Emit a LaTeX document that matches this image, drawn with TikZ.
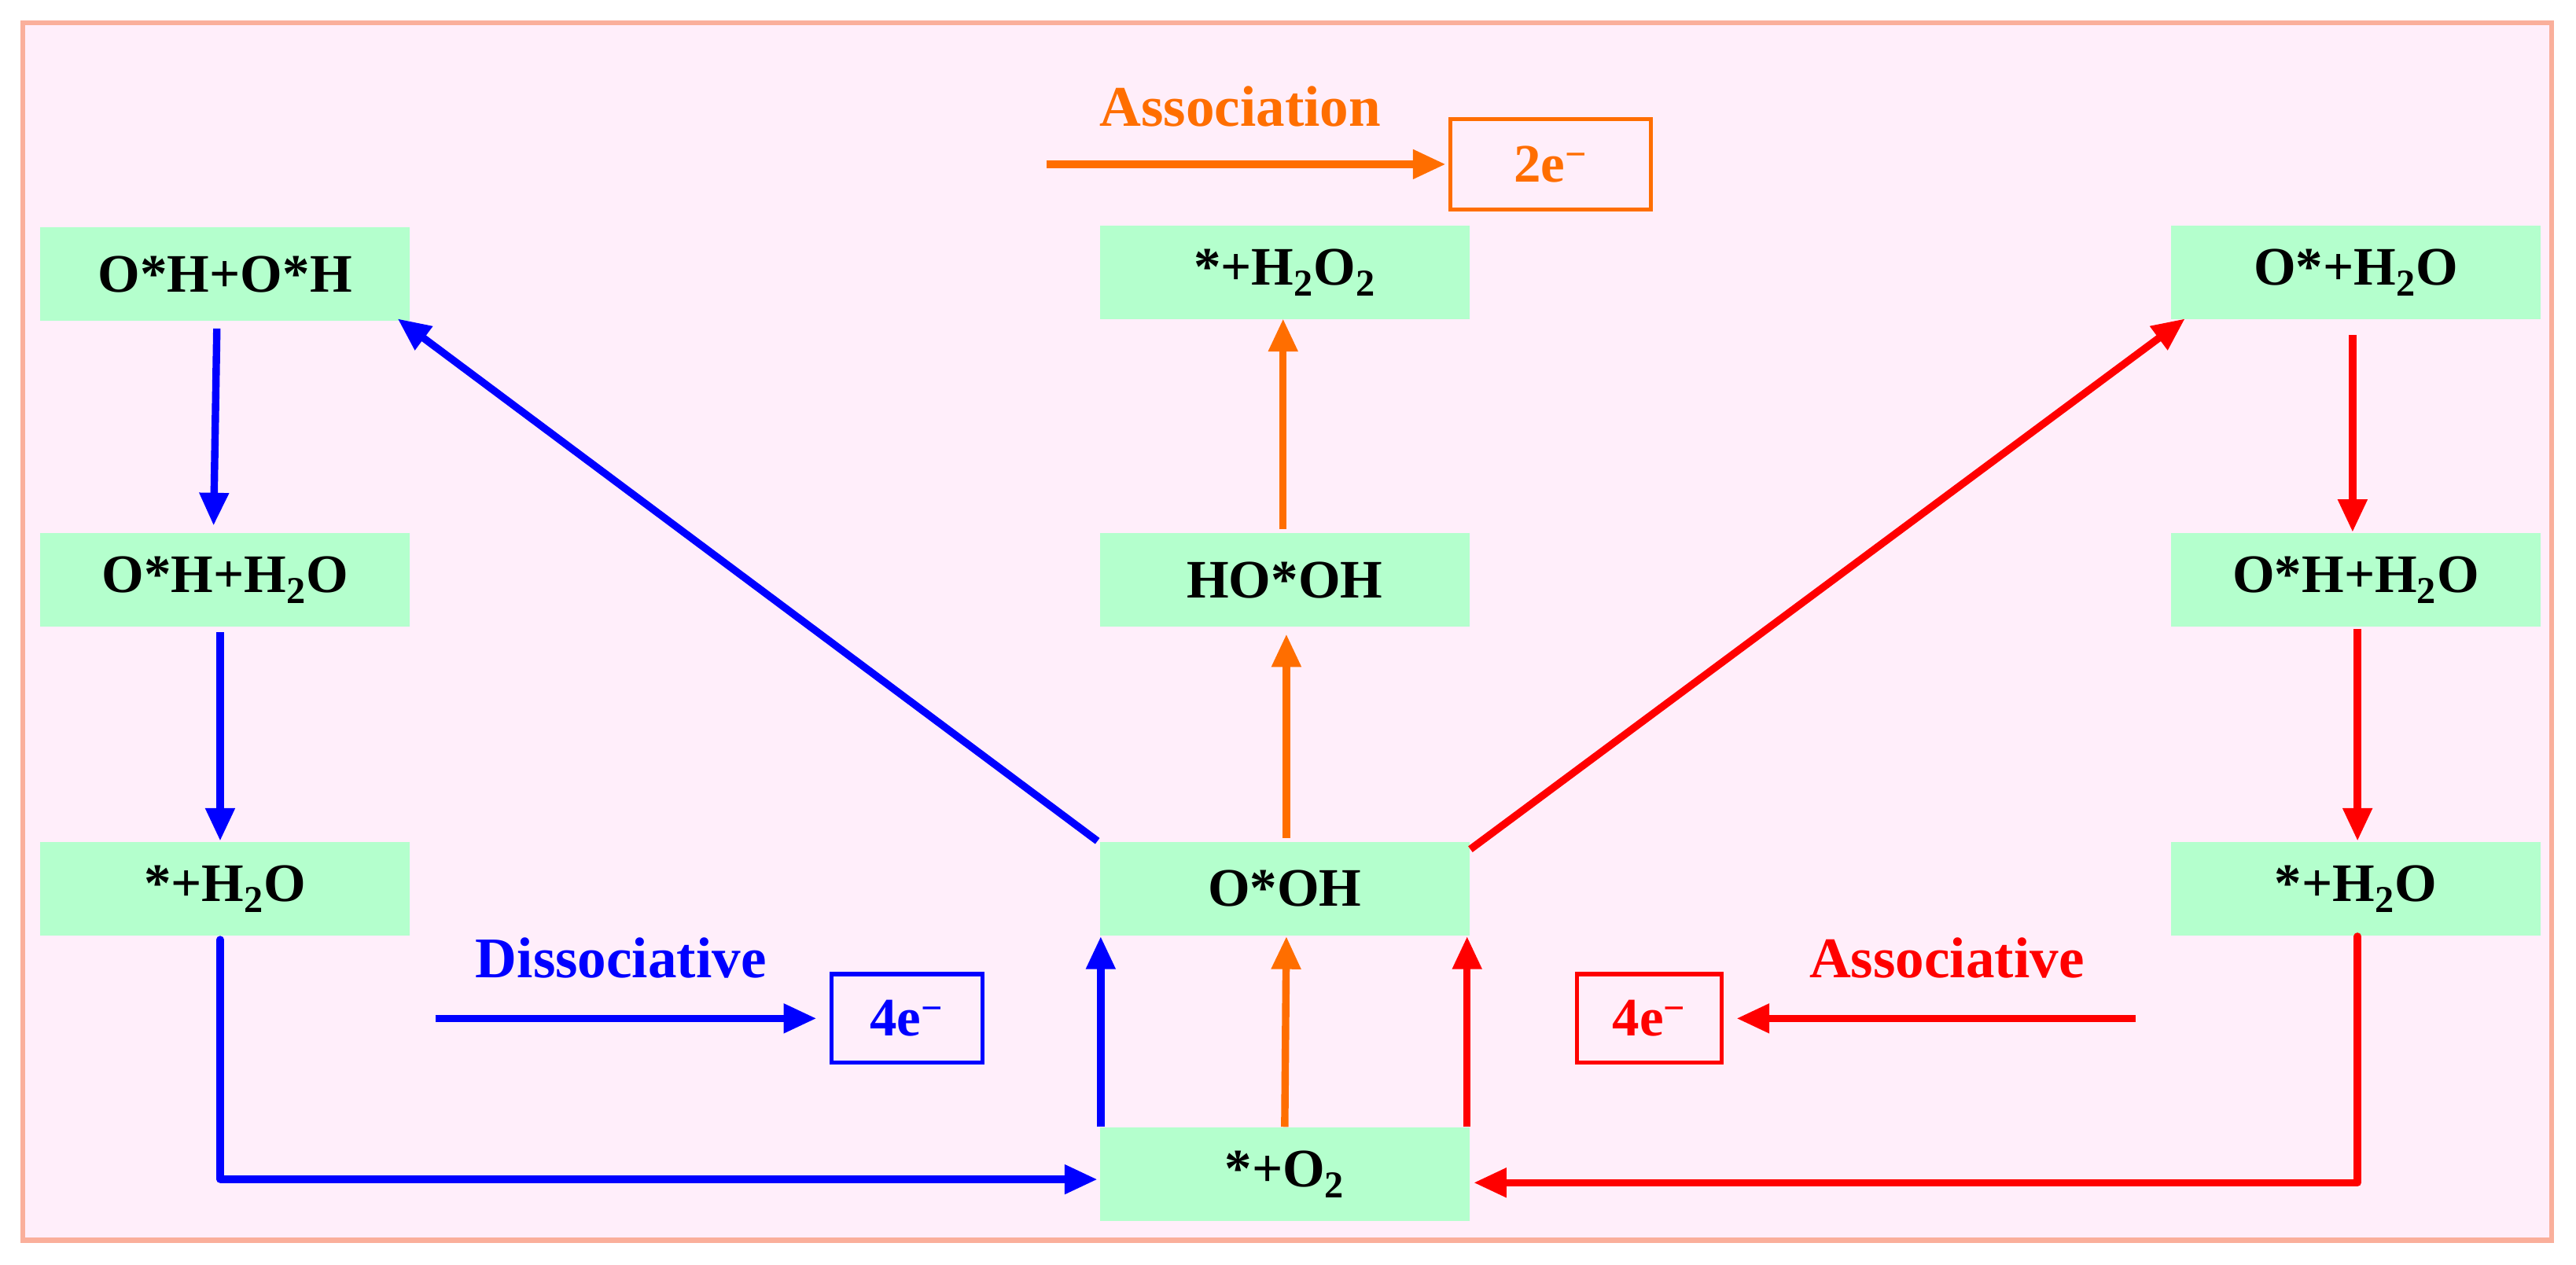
\documentclass[tikz,border=0pt]{standalone}
\usepackage{fontspec}
\setmainfont{Liberation Serif}
\usetikzlibrary{arrows.meta}
\definecolor{bgpink}{RGB}{255,238,250}
\definecolor{bord}{RGB}{250,175,155}
\definecolor{ngreen}{RGB}{180,255,205}
\definecolor{cblue}{RGB}{0,0,255}
\definecolor{corange}{RGB}{255,110,0}
\definecolor{cred}{RGB}{255,0,0}
\tikzset{
  st/.style={fill=ngreen,minimum width=225pt,minimum height=57pt,inner sep=0pt,font=\fontsize{33}{36}\selectfont\bfseries},
  ar/.style={line width=4.5pt,-{Triangle[length=20pt,width=17pt]}},
  ln/.style={line width=4.5pt},
  lab/.style={font=\fontsize{35}{38}\selectfont\bfseries},
  ebox/.style={draw,line width=2.5pt,inner sep=0pt,font=\fontsize{33}{36}\selectfont\bfseries}
}
\newcommand{\two}{\textsubscript{2}}
\begin{document}
\begin{tikzpicture}[x=1pt,y=-1pt]
\useasboundingbox (0,0) rectangle (1568,770);
\fill[white] (0,0) rectangle (1568,770);
\draw[bord,fill=bgpink,line width=3pt] (14,14) rectangle (1553,755);
\node[st] (a1) at (137,167) {O*H+O*H};
\node[st] (a2) at (137,353) {O*H+H\two O};
\node[st] (a3) at (137,541) {*+H\two O};
\node[st] (m1) at (782,166) {*+H\two O\two};
\node[st] (m2) at (782,353) {HO*OH};
\node[st] (m3) at (782,541) {O*OH};
\node[st] (m4) at (782,715) {*+O\two};
\node[st] (c1) at (1434,166) {O*+H\two O};
\node[st] (c2) at (1434,353) {O*H+H\two O};
\node[st] (c3) at (1434,541) {*+H\two O};
% blue
\draw[ar,cblue] (132,200) -- (130,320);
\draw[ar,cblue] (134,385) -- (134,512);
\draw[ln,cblue,line cap=round] (134,572) -- (134,718) coordinate (bl);
\draw[ar,cblue] (bl) -- (668,718);
\draw[ar,cblue] (670,686) -- (670,570);
\draw[ar,cblue] (668,512) -- (242,194);
% orange
\draw[ar,corange] (782,686) -- (783,570);
\draw[ar,corange] (783,510) -- (783,386);
\draw[ar,corange] (781,322) -- (781,194);
% red
\draw[ar,cred] (895,517) -- (1330,194);
\draw[ar,cred] (1432,204) -- (1432,324);
\draw[ar,cred] (1435,383) -- (1435,512);
\draw[ln,cred,line cap=round] (1435,570) -- (1435,720) coordinate (br);
\draw[ar,cred] (br) -- (897,720);
\draw[ar,cred] (893,686) -- (893,570);
% legends
\node[lab,corange] (la) at (755,65) {Association};
\draw[ar,corange] (637,100) -- (880,100);
\node[ebox,corange,minimum width=122pt,minimum height=55pt] (ba) at (944,100) {2e\textsuperscript{−}};
\node[lab,cblue] (lb) at (378,583) {Dissociative};
\draw[ar,cblue] (265,620) -- (497,620);
\node[ebox,cblue,minimum width=92pt,minimum height=54pt] (bb) at (552,620) {4e\textsuperscript{−}};
\node[lab,cred] (lr) at (1185,583) {Associative};
\draw[ar,cred] (1300,620) -- (1057,620);
\node[ebox,cred,minimum width=88pt,minimum height=54pt] (br2) at (1004,620) {4e\textsuperscript{−}};
\end{tikzpicture}
\end{document}
